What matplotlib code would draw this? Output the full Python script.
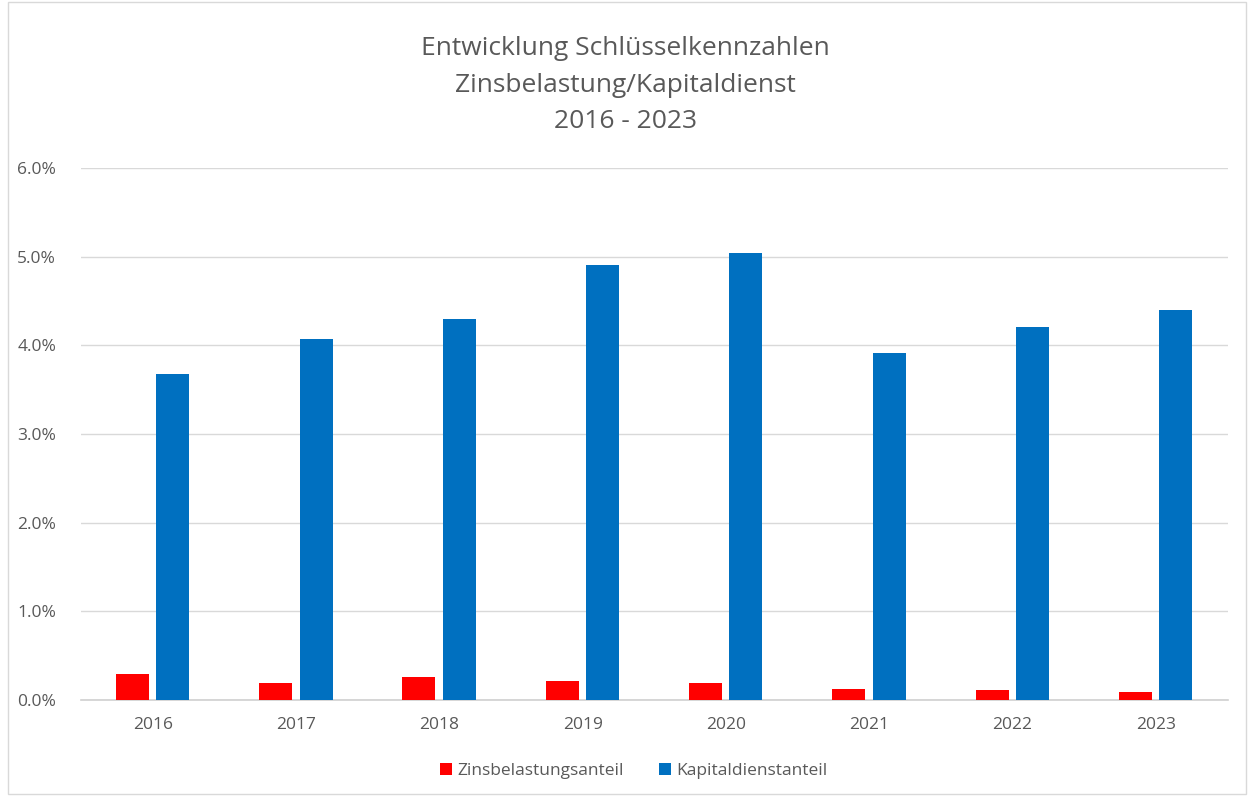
import matplotlib.pyplot as plt
import numpy as np
from matplotlib.patches import Rectangle
from matplotlib.ticker import FuncFormatter

years = ['2016', '2017', '2018', '2019', '2020', '2021', '2022', '2023']
zinsbelastung = [0.29, 0.19, 0.26, 0.21, 0.19, 0.12, 0.11, 0.09]
kapitaldienst = [3.68, 4.07, 4.30, 4.91, 5.04, 3.91, 4.21, 4.40]

plt.rcParams['font.family'] = ['Open Sans', 'DejaVu Sans']
grey = '#595959'

fig = plt.figure(figsize=(12.5, 7.96), dpi=100)
ax = fig.add_axes([0.065, 0.1206, 0.917, 0.6684])

x = np.arange(len(years))
ax.bar(x - 0.143, zinsbelastung, width=0.23, color='#ff0000', label='Zinsbelastungsanteil', zorder=3)
ax.bar(x + 0.139, kapitaldienst, width=0.23, color='#0070c0', label='Kapitaldienstanteil', zorder=3)

ax.set_xlim(-0.5, len(years) - 0.5)
ax.set_ylim(0, 6)
ax.set_yticks(np.arange(0, 7, 1))
ax.yaxis.set_major_formatter(FuncFormatter(lambda v, p: f'{v:.1f}%'))
ax.set_xticks(x)
ax.set_xticklabels(years)
ax.grid(axis='y', color='#d9d9d9', linewidth=1, zorder=0)
for s in ['top', 'right', 'left']:
    ax.spines[s].set_visible(False)
ax.spines['bottom'].set_color('#d0d0d0')
ax.spines['bottom'].set_linewidth(1.2)
ax.tick_params(axis='both', length=0, labelsize=12.5, colors=grey, pad=12)
ax.tick_params(axis='y', pad=18)

fig.text(0.5, 0.893, 'Entwicklung Schlüsselkennzahlen\nZinsbelastung/Kapitaldienst\n2016 - 2023',
         ha='center', va='center', fontsize=19, color=grey, linespacing=1.6)

leg = fig.legend(loc='center', bbox_to_anchor=(0.507, 0.031), ncol=2, frameon=False,
                 fontsize=12.5, handlelength=0.7, handleheight=0.7, columnspacing=2.0,
                 handletextpad=0.3)
for t in leg.get_texts():
    t.set_color(grey)

fig.patches.append(Rectangle((0.0065, 0.003), 0.99, 0.994, transform=fig.transFigure,
                             fill=False, edgecolor='#d9d9d9', linewidth=1))

fig.savefig('out.png', dpi=100)
